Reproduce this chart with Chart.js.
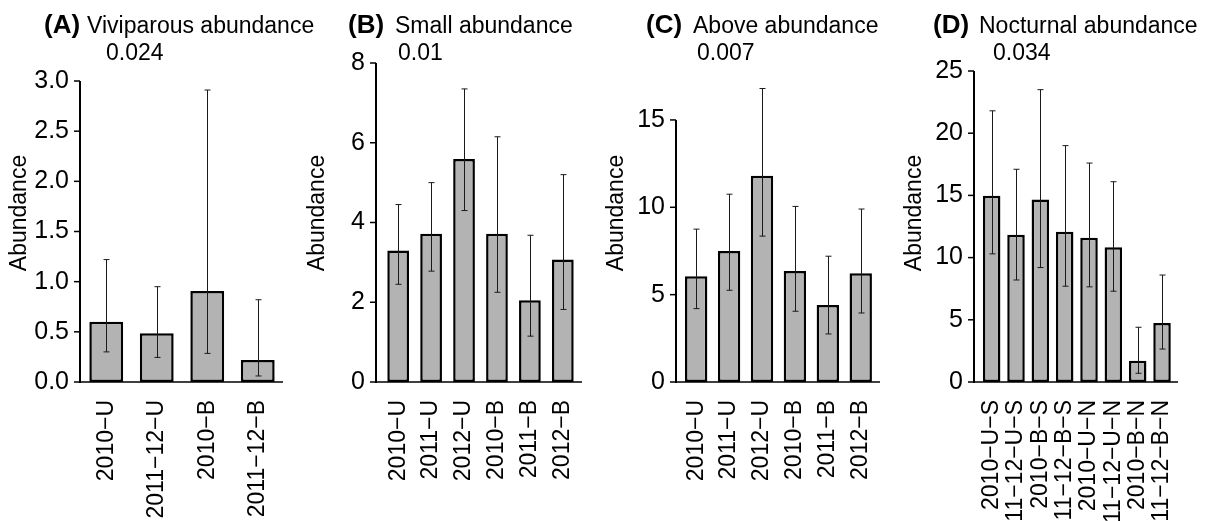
<!DOCTYPE html>
<html>
<head>
<meta charset="utf-8">
<script src="https://cdn.jsdelivr.net/npm/chart.js@4/dist/chart.umd.min.js"></script>
<style>
  body { margin: 0; background: #fff; }
  #wrap { position: relative; width: 1213px; height: 521px; }
  #wrap canvas { position: absolute; left: 0; top: 0; }
</style>
</head>
<body>
<div id="wrap">
  <canvas id="panelA" width="1213" height="521"></canvas>
  <canvas id="panelB" width="1213" height="521"></canvas>
  <canvas id="panelC" width="1213" height="521"></canvas>
  <canvas id="panelD" width="1213" height="521"></canvas>
</div>
<script>
// (A) viviparous
const labelsA = ['2010−U', '2011−12−U', '2010−B', '2011−12−B'];
const meanA = [0.6, 0.485, 0.907, 0.22];
const hiA = [1.22, 0.95, 2.91, 0.82];
const loA = [0.3, 0.245, 0.285, 0.06];
const ticksA = [0, 0.5, 1, 1.5, 2, 2.5, 3];

// (B) small
const labelsB = ['2010−U', '2011−U', '2012−U', '2010−B', '2011−B', '2012−B'];
const meanB = [3.3, 3.72, 5.59, 3.72, 2.05, 3.07];
const hiB = [4.45, 5.0, 7.35, 6.15, 3.68, 5.2];
const loB = [2.45, 2.78, 4.3, 2.25, 1.15, 1.82];
const ticksB = [0, 2, 4, 6, 8];

// (C) above
const labelsC = ['2010−U', '2011−U', '2012−U', '2010−B', '2011−B', '2012−B'];
const meanC = [6.05, 7.5, 11.81, 6.35, 4.41, 6.22];
const hiC = [8.75, 10.75, 16.8, 10.05, 7.2, 9.9];
const loC = [4.2, 5.25, 8.35, 4.05, 2.75, 3.95];
const ticksC = [0, 5, 10, 15];

// (D) nocturnal
const labelsD = ['2010−U−S', '2011−12−U−S', '2010−B−S', '2011−12−B−S',
                 '2010−U−N', '2011−12−U−N', '2010−B−N', '2011−12−B−N'];
const meanD = [14.98, 11.84, 14.68, 12.08, 11.6, 10.83, 1.71, 4.74];
const hiD = [21.8, 17.1, 23.5, 19.0, 17.6, 16.1, 4.4, 8.6];
const loD = [10.3, 8.2, 9.2, 7.7, 7.65, 7.3, 0.7, 2.65];
const ticksD = [0, 5, 10, 15, 20, 25];

Chart.defaults.font.family = '"Liberation Sans", Arial, Helvetica, sans-serif';
Chart.defaults.color = '#000';

const FONT = '"Liberation Sans", Arial, Helvetica, sans-serif';

const panels = [
  { id: 'panelA', letter: '(A)', name: 'Viviparous abundance', p: '0.024',
    labels: labelsA, mean: meanA, hi: hiA, lo: loA, ticks: ticksA, dec: 1, max: 3,
    axisX: 80, left: 81, right: 283, axisRight: 283, top: 81, barPct: 0.67,
    letterX: 44, nameX: 87, pX: 106, yTitleX: 20 },
  { id: 'panelB', letter: '(B)', name: 'Small abundance', p: '0.01',
    labels: labelsB, mean: meanB, hi: hiB, lo: loB, ticks: ticksB, dec: 0, max: 8,
    axisX: 376, left: 381.7, right: 579.3, axisRight: 582, top: 63, barPct: 0.66,
    letterX: 348, nameX: 395, pX: 398, yTitleX: 318 },
  { id: 'panelC', letter: '(C)', name: 'Above abundance', p: '0.007',
    labels: labelsC, mean: meanC, hi: hiC, lo: loC, ticks: ticksC, dec: 0, max: 17,
    axisX: 676, left: 679.7, right: 877.2, axisRight: 880, top: 85, barPct: 0.68,
    letterX: 646, nameX: 693, pX: 697, yTitleX: 617 },
  { id: 'panelD', letter: '(D)', name: 'Nocturnal abundance', p: '0.034',
    labels: labelsD, mean: meanD, hi: hiD, lo: loD, ticks: ticksD, dec: 0, max: 25,
    axisX: 974, left: 979.5, right: 1174.2, axisRight: 1178, top: 71, barPct: 0.72,
    letterX: 933, nameX: 979, pX: 993, yTitleX: 915 }
];

function line(ctx, x1, y1, x2, y2) {
  ctx.beginPath();
  ctx.moveTo(x1, y1);
  ctx.lineTo(x2, y2);
  ctx.stroke();
}

function makeExtras(p) {
  return {
    id: 'extras',
    afterDatasetsDraw(chart) {
      const ctx = chart.ctx;
      const xs = chart.scales.x, ys = chart.scales.y;
      ctx.save();
      // error bars
      ctx.strokeStyle = '#1a1a1a';
      ctx.lineWidth = 1;
      p.mean.forEach((m, i) => {
        const px = Math.round(xs.getPixelForValue(i)) + 0.5;
        const yh = ys.getPixelForValue(p.hi[i]);
        const yl = ys.getPixelForValue(p.lo[i]);
        line(ctx, px, yh, px, yl);
        line(ctx, px - 3, yh, px + 3, yh);
        line(ctx, px - 3, yl, px + 3, yl);
      });
      // axes
      ctx.strokeStyle = '#000';
      const y0 = ys.getPixelForValue(0);
      const yTop = ys.getPixelForValue(p.ticks[p.ticks.length - 1]);
      ctx.lineWidth = 2;
      line(ctx, p.axisX, y0 + 1, p.axisX, yTop);
      ctx.lineWidth = 1.5;
      p.ticks.forEach(v => {
        const py = ys.getPixelForValue(v);
        line(ctx, p.axisX - 6, py, p.axisX, py);
      });
      line(ctx, p.axisX, y0, p.axisRight, y0);
      ctx.restore();
    },
    afterDraw(chart) {
      const ctx = chart.ctx;
      ctx.save();
      ctx.fillStyle = '#000';
      ctx.textBaseline = 'alphabetic';
      ctx.textAlign = 'left';
      ctx.font = 'bold 26px ' + FONT;
      ctx.fillText(p.letter, p.letterX, 33);
      ctx.font = '23px ' + FONT;
      ctx.fillText(p.name, p.nameX, 33);
      ctx.fillText(p.p, p.pX, 60);
      ctx.translate(p.yTitleX, 213);
      ctx.rotate(-Math.PI / 2);
      ctx.textAlign = 'center';
      ctx.textBaseline = 'middle';
      ctx.font = '23px ' + FONT;
      ctx.fillText('Abundance', 0, 0);
      ctx.restore();
    }
  };
}

panels.forEach(p => {
  new Chart(document.getElementById(p.id), {
    type: 'bar',
    data: {
      labels: p.labels,
      datasets: [{
        data: p.mean,
        backgroundColor: '#b3b3b3',
        borderColor: '#000',
        borderWidth: 2.5,
        borderSkipped: false,
        barPercentage: p.barPct,
        categoryPercentage: 1
      }]
    },
    options: {
      responsive: false,
      animation: false,
      events: [],
      layout: { padding: { left: 0, right: 1213 - p.right, top: p.top, bottom: 0 } },
      plugins: {
        legend: { display: false },
        tooltip: { enabled: false }
      },
      scales: {
        x: {
          grid: { display: false, drawTicks: false },
          border: { display: false },
          ticks: {
            minRotation: 90, maxRotation: 90, autoSkip: false,
            padding: 18, font: { size: 23 }
          },
          afterFit: s => { s.height = 521 - 382; }
        },
        y: {
          min: 0,
          max: p.max,
          grid: { display: false, drawTicks: false },
          border: { display: false },
          ticks: {
            autoSkip: false,
            padding: p.left - p.axisX + 11,
            font: { size: 25 },
            callback: v => v.toFixed(p.dec)
          },
          afterBuildTicks: s => { s.ticks = p.ticks.map(v => ({ value: v })); },
          afterFit: s => { s.width = p.left; }
        }
      }
    },
    plugins: [makeExtras(p)]
  });
});
</script>
</body>
</html>
